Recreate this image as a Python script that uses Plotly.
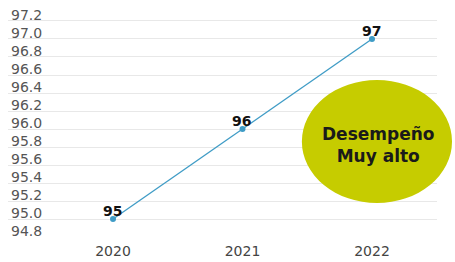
import plotly.graph_objects as go

years = [2020, 2021, 2022]
values = [95, 96, 97]
value_labels = ["95", "96", "97"]
y_ticks = [94.8, 95.0, 95.2, 95.4, 95.6, 95.8, 96.0, 96.2, 96.4, 96.6, 96.8, 97.0, 97.2]
y_tick_text = ["94.8", "95.0", "95.2", "95.4", "95.6", "95.8", "96.0", "96.2", "96.4", "96.6", "96.8", "97.0", "97.2"]
badge_text = "Desempeño<br>Muy alto"

fig = go.Figure()
fig.add_trace(go.Scatter(
    x=years, y=values, mode="lines+markers",
    line=dict(color="#3f9cc6", width=1.3),
    marker=dict(color="#3f9cc6", size=6),
    cliponaxis=False, showlegend=False, hoverinfo="skip",
))
for xv, yv, lab in zip(years, values, value_labels):
    fig.add_annotation(x=xv, y=yv, text=lab, showarrow=False,
                       xanchor="center", yanchor="middle", yshift=8, xshift=-1,
                       font=dict(family="DejaVu Sans", size=14, color="#111111", weight="bold"))

fig.add_shape(type="circle", xref="paper", yref="paper",
              x0=0.685, x1=1.035, y0=0.152, y1=0.687,
              fillcolor="#c6cc00", line=dict(width=0), layer="above")
fig.add_annotation(xref="paper", yref="paper", x=0.862, y=0.404,
                   xanchor="center", yanchor="middle",
                   text=badge_text, showarrow=False,
                   font=dict(family="DejaVu Sans", size=17, color="#1a1a1a", weight="bold"),
                   align="center")

fig.update_layout(
    width=455, height=262,
    margin=dict(l=8, r=18, t=8, b=24),
    paper_bgcolor="white", plot_bgcolor="white",
    xaxis=dict(range=[2019.189, 2022.502], tickvals=years, ticktext=[str(y) for y in years],
               showgrid=False, zeroline=False, showline=False, automargin=False,
               ticklabelstandoff=3,
               tickfont=dict(family="DejaVu Sans", size=14, color="#444444")),
    yaxis=dict(range=[94.79, 97.344], tickvals=y_ticks, ticktext=y_tick_text,
               ticklabelposition="inside top", ticklabeloverflow="allow", ticklabelshift=4,
               showgrid=True, gridcolor="#e8e8e8",
               zeroline=False, showline=False, automargin=False,
               tickfont=dict(family="DejaVu Sans", size=14, color="#555555")),
)

fig.write_html("out.html", post_script="document.body.style.margin='0';",
               config={"displayModeBar": False})
